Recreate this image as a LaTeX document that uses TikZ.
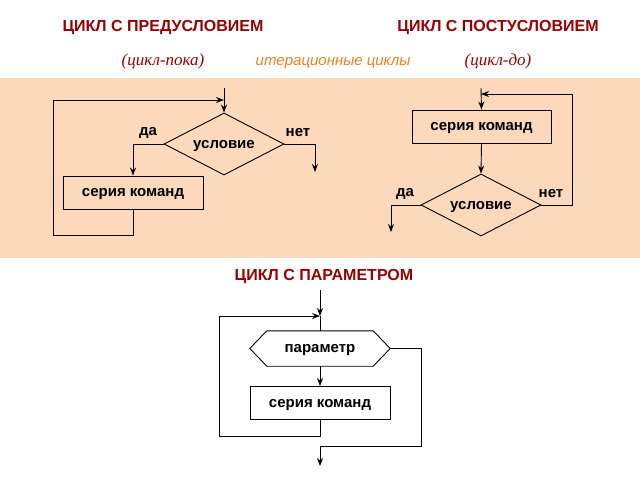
\documentclass[tikz,border=0pt]{standalone}
\usepackage{fontspec}
\setmainfont{Liberation Sans}
\newfontfamily\serifit{Liberation Serif}
\usetikzlibrary{shapes.geometric,arrows.meta}
\definecolor{ttl}{HTML}{990000}
\definecolor{band}{HTML}{FDD9BB}
\definecolor{orng}{HTML}{F08020}
\begin{document}
\begin{tikzpicture}[x=1pt,y=-1pt,
  ln/.style={line width=0.9pt,black},
  ar/.style={ln,-{Stealth[length=8pt,width=6pt]}},
  lbl/.style={font=\fontsize{15}{17}\selectfont\bfseries},
  box/.style={draw,ln,minimum width=140pt,minimum height=33pt,lbl,inner sep=0pt,text height=11pt,text depth=3pt},
  dia/.style={draw,ln,diamond,aspect=2,minimum width=120pt,minimum height=62pt,inner sep=0pt,lbl,text height=11pt,text depth=3pt},
  title/.style={font=\fontsize{16}{18}\selectfont\bfseries,text=ttl},
  sub/.style={font=\fontsize{17}{19}\selectfont\serifit\itshape,text=ttl}]
\useasboundingbox (0,0) rectangle (640,480);
\fill[band] (0,78) rectangle (640,258);
\node[title] (t1) at (163,28) {ЦИКЛ С ПРЕДУСЛОВИЕМ};
\node[title] (t2) at (498,28) {ЦИКЛ С ПОСТУСЛОВИЕМ};
\node[sub] (s1) at (163,61) {(цикл-пока)};
\node[sub] (s2) at (498,61) {(цикл-до)};
\node[font=\fontsize{15}{17}\selectfont\itshape,text=orng] (it) at (333,63) {итерационные циклы};
\node[title] (t3) at (324,277) {ЦИКЛ С ПАРАМЕТРОМ};
% left
\coordinate (a0) at (224,88);
\node[dia] (c1) at (224,144) {условие};
\node[box] (b1) at (133,192.5) {серия команд};
\node[lbl] (y1) at (148,133) {да};
\node[lbl] (n1) at (298,133) {нет};
\coordinate (e1) at (315,172);
\draw[ar] (a0) -- (c1.north);
\draw[ar] (c1.west) -| (b1.north);
\draw[ar] (c1.east) -| (e1);
\draw[ar] (b1.south) |- (53,235) |- (224,100);
% right
\coordinate (a1) at (481,88);
\node[box,minimum width=139pt] (b2) at (481.5,126.5) {серия команд};
\node[dia] (c2) at (481,205) {условие};
\node[lbl] (y2) at (405,194) {да};
\node[lbl] (n2) at (551,194) {нет};
\coordinate (e2) at (391,232);
\draw[ar] (a1) -- (b2.north);
\draw[ar] (b2.south) -- (c2.north);
\draw[ar] (c2.west) -| (e2);
\draw[ar] (c2.east) -| (572,94) -- (481,94);
% bottom
\coordinate (a2) at (320,290);
\node[minimum width=140pt,minimum height=35pt,inner sep=0pt,lbl,text height=11pt,text depth=3pt] (h) at (320,348.5) {параметр};
\draw[ln] (h.west) -- ([xshift=17pt]h.north west) -- ([xshift=-17pt]h.north east) -- (h.east) -- ([xshift=-17pt]h.south east) -- ([xshift=17pt]h.south west) -- cycle;
\node[box] (b3) at (320,403) {серия команд};
\coordinate (e3) at (320,466);
\draw[ar] (a2) -- (320,316);
\draw[ln] (320,316) -- (h.north);
\draw[ar] (h.south) -- (b3.north);
\draw[ar] (b3.south) |- (219,436) |- (320,316);
\draw[ar] (h.east) -| (421,446) -| (e3);
\end{tikzpicture}
\end{document}
